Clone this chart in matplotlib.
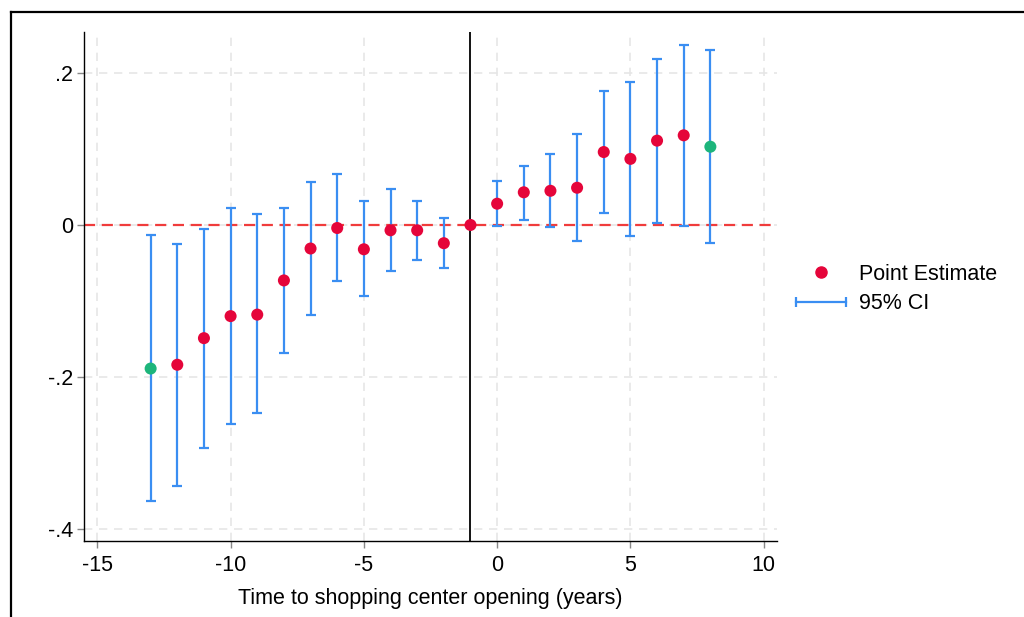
import numpy as np
import matplotlib
matplotlib.use("Agg")
import matplotlib.pyplot as plt
from matplotlib.lines import Line2D
from matplotlib.legend_handler import HandlerLine2D

plt.rcParams["font.family"] = ["Liberation Sans", "DejaVu Sans"]
plt.rcParams["axes.unicode_minus"] = False

# event time (years to opening)
years = [-13, -12, -11, -10, -9, -8, -7, -6, -5, -4, -3, -2, -1,
         0, 1, 2, 3, 4, 5, 6, 7, 8]
estimate = [-0.189, -0.184, -0.149, -0.120, -0.118, -0.073, -0.031, -0.004,
            -0.032, -0.007, -0.007, -0.024, 0.0,
            0.028, 0.043, 0.045, 0.049, 0.096, 0.087, 0.111, 0.118, 0.103]
ci_low = [-0.363, -0.343, -0.293, -0.262, -0.248, -0.169, -0.118, -0.074,
          -0.094, -0.060, -0.046, -0.057, np.nan,
          -0.002, 0.007, -0.003, -0.021, 0.016, -0.015, 0.003, -0.001, -0.024]
ci_high = [-0.013, -0.025, -0.005, 0.022, 0.014, 0.022, 0.056, 0.067,
           0.031, 0.047, 0.032, 0.009, np.nan,
           0.058, 0.078, 0.093, 0.120, 0.176, 0.188, 0.219, 0.237, 0.230]
# binned endpoints shown in green
binned = [-13, 8]

red = "#E5053A"
green = "#1DB57B"
blue = "#3A8EF2"

x = np.array(years)
y = np.array(estimate)
lo = np.array(ci_low)
hi = np.array(ci_high)

fig = plt.figure(figsize=(10.24, 6.17), dpi=100)
ax = fig.add_axes([84 / 1024, 1 - 541 / 617, (777 - 84) / 1024, (541 - 32) / 617])

ax.grid(True, color="#e6e6e6", linestyle=(0, (5, 4)), linewidth=1.2)
ax.set_axisbelow(True)

ax.axhline(0, color="#F03C3C", linestyle=(0, (5, 3)), linewidth=1.6, zorder=1)
ax.axvline(-1, color="black", linewidth=1.3, zorder=1)

ok = ~np.isnan(lo)
ax.errorbar(x[ok], y[ok], yerr=[y[ok] - lo[ok], hi[ok] - y[ok]], fmt="none",
            ecolor=blue, elinewidth=1.6, capsize=3.5, capthick=1.6, zorder=2)
colors = [green if v in binned else red for v in years]
ax.scatter(x, y, s=75, c=colors, edgecolors="none", zorder=3)

ax.set_xlim(-15.5, 10.5)
ax.set_ylim(-0.416, 0.254)
ax.set_xticks([-15, -10, -5, 0, 5, 10])
ax.set_yticks([0.2, 0, -0.2, -0.4])
ax.set_yticklabels([".2", "0", "-.2", "-.4"])
ax.tick_params(axis="both", direction="out", length=5, width=1, color="#888888",
               labelsize=15.5)
ax.tick_params(axis="x", pad=5)
ax.tick_params(axis="y", pad=3)
for s in ["top", "right"]:
    ax.spines[s].set_visible(False)
for s in ["left", "bottom"]:
    ax.spines[s].set_linewidth(1.0)
ax.set_xlabel("Time to shopping center opening (years)", fontsize=15.5, labelpad=9)

pt_handle = Line2D([], [], marker="o", color=red, linestyle="none", markersize=8)
ci_handle = Line2D([], [], color=blue, linewidth=1.6, marker="|", markersize=7,
                   markeredgewidth=1.6)
ax.legend([pt_handle, ci_handle], ["Point Estimate", "95% CI"], loc="center left",
          bbox_to_anchor=(1.0, 0.495), frameon=False, fontsize=15.5,
          handlelength=2.3, handletextpad=0.6, labelspacing=0.4,
          handler_map={ci_handle: HandlerLine2D(numpoints=2, marker_pad=0)})

# outer frame lines (top and left)
fig.add_artist(Line2D([11 / 1024, 11 / 1024], [0, 1 - 12 / 617], color="black",
                      linewidth=1.6))
fig.add_artist(Line2D([11 / 1024, 1], [1 - 12 / 617, 1 - 12 / 617], color="black",
                      linewidth=1.6))

fig.savefig("out.png", dpi=100)
